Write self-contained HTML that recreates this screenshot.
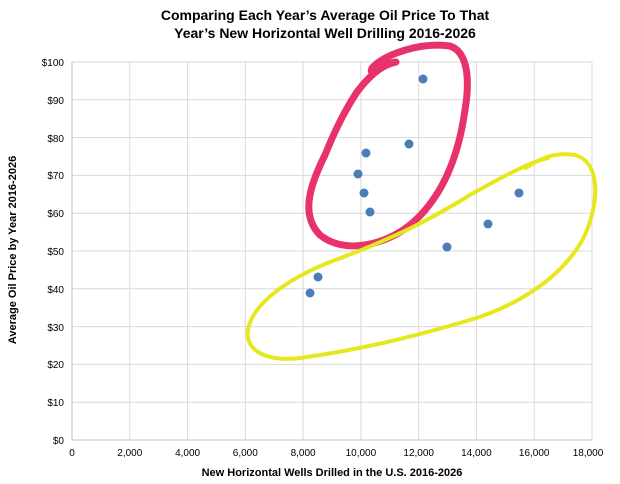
<!DOCTYPE html>
<html><head><meta charset="utf-8"><style>
body{margin:0;background:#fff;}
svg{display:block;font-family:"Liberation Sans",Arial,sans-serif;}
</style></head><body>
<svg width="620" height="484" viewBox="0 0 620 484">
<text x="325" y="20" text-anchor="middle" font-size="14" font-weight="bold" fill="#000">Comparing Each Year’s Average Oil Price To That</text>
<text x="325" y="38" text-anchor="middle" font-size="14" font-weight="bold" fill="#000">Year’s New Horizontal Well Drilling 2016-2026</text>
<g stroke="#d9d9d9" stroke-width="1">
<line x1="72" y1="62" x2="592" y2="62"/><line x1="72" y1="99.8" x2="592" y2="99.8"/><line x1="72" y1="137.6" x2="592" y2="137.6"/><line x1="72" y1="175.4" x2="592" y2="175.4"/><line x1="72" y1="213.2" x2="592" y2="213.2"/><line x1="72" y1="251" x2="592" y2="251"/><line x1="72" y1="288.8" x2="592" y2="288.8"/><line x1="72" y1="326.6" x2="592" y2="326.6"/><line x1="72" y1="364.4" x2="592" y2="364.4"/><line x1="72" y1="402.2" x2="592" y2="402.2"/>
<line x1="129.8" y1="62" x2="129.8" y2="440"/><line x1="187.6" y1="62" x2="187.6" y2="440"/><line x1="245.3" y1="62" x2="245.3" y2="440"/><line x1="303.1" y1="62" x2="303.1" y2="440"/><line x1="360.9" y1="62" x2="360.9" y2="440"/><line x1="418.7" y1="62" x2="418.7" y2="440"/><line x1="476.4" y1="62" x2="476.4" y2="440"/><line x1="534.2" y1="62" x2="534.2" y2="440"/><line x1="592" y1="62" x2="592" y2="440"/>
<line x1="72" y1="440" x2="592" y2="440" stroke="#bfbfbf"/><line x1="72" y1="62" x2="72" y2="440" stroke="#bfbfbf"/>
</g>
<g font-size="10" fill="#000" text-anchor="end">
<text x="64" y="66">$100</text><text x="64" y="104">$90</text><text x="64" y="142">$80</text><text x="64" y="179">$70</text><text x="64" y="217">$60</text><text x="64" y="255">$50</text><text x="64" y="293">$40</text><text x="64" y="331">$30</text><text x="64" y="368">$20</text><text x="64" y="406">$10</text><text x="64" y="444">$0</text>
</g>
<g font-size="10" fill="#000" text-anchor="middle">
<text x="72" y="456">0</text><text x="129.8" y="456">2,000</text><text x="187.6" y="456">4,000</text><text x="245.3" y="456">6,000</text><text x="303.1" y="456">8,000</text><text x="360.9" y="456">10,000</text><text x="418.7" y="456">12,000</text><text x="476.4" y="456">14,000</text><text x="534.2" y="456">16,000</text><text x="588" y="456">18,000</text>
</g>
<text x="332" y="476" text-anchor="middle" font-size="11" font-weight="bold">New Horizontal Wells Drilled in the U.S. 2016-2026</text>
<text transform="translate(16,250) rotate(-90)" text-anchor="middle" font-size="11" font-weight="bold">Average Oil Price by Year 2016-2026</text>
<g fill="#4a7ebb">
<circle cx="310" cy="293" r="4.5"/><circle cx="318" cy="277" r="4.5"/><circle cx="358" cy="174" r="4.5"/><circle cx="364" cy="193" r="4.5"/><circle cx="366" cy="153" r="4.5"/><circle cx="370" cy="212" r="4.5"/><circle cx="409" cy="144" r="4.5"/><circle cx="423" cy="79" r="4.5"/><circle cx="447" cy="247" r="4.5"/><circle cx="488" cy="224" r="4.5"/><circle cx="519" cy="193" r="4.5"/>
</g>
<path d="M357 92 C372 72 385 64 396 62 C380 64 368 78 372 68 C385 54 420 42 450 46 C468 52 470 80 465 110 C458 160 440 200 410 225 C385 245 345 255 320 235 C300 215 310 185 325 155 C335 130 345 110 357 92" fill="none" stroke="#e8336a" stroke-width="7" stroke-linecap="round" stroke-linejoin="round"/>
<path d="M526 168 C540 158 555 152 575 155 C600 162 600 200 585 235 C565 275 520 305 470 320 C420 335 360 350 300 358 C265 362 245 350 248 330 C252 305 285 280 330 262 C390 240 430 220 470 195 C500 178 530 162 548 158" fill="none" stroke="#e4e81c" stroke-width="4" stroke-linecap="round" stroke-linejoin="round"/>
</svg>
</body></html>
